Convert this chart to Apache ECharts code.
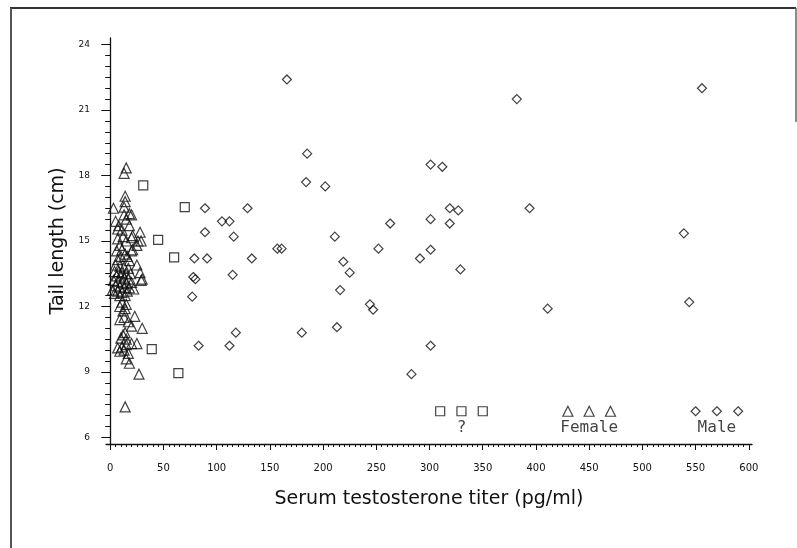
<!DOCTYPE html>
<html>
<head>
<meta charset="utf-8">
<script src="https://cdn.jsdelivr.net/npm/echarts@6/dist/echarts.min.js"></script>
<style>
  html, body { margin: 0; padding: 0; background: #fff; }
  #chart { width: 797px; height: 548px; }
</style>
</head>
<body>
<div id="chart"></div>
<script>
// tick labels
const xTicks = [0, 50, 100, 150, 200, 250, 300, 350, 400, 450, 500, 550, 600];
const yTicks = [6, 9, 12, 15, 18, 21, 24];

// sex unknown (?) - squares
const unknown = [
  [31, 17.55], [45, 15.05], [60, 14.25], [70, 16.55], [39, 10.05], [64, 8.95]
];

// females - triangles
const female = [
  [15, 18.35], [13, 18.1], [14, 17.05], [14, 16.8], [3, 16.5], [13, 16.55],
  [18, 16.25], [20, 16.2], [13, 16.2], [5, 15.9], [15, 16.0], [8, 15.7],
  [18, 15.7], [11, 15.5], [28, 15.4], [7, 15.55], [21, 15.25], [20, 15.15],
  [29, 15.0], [26, 15.0], [7, 15.1], [15, 15.0], [12, 15.2], [9, 14.8],
  [25, 14.8], [6, 14.55], [20, 14.55], [21, 14.6], [14, 14.4], [11, 14.6],
  [7, 14.15], [18, 14.1], [16, 14.3], [10, 14.3], [25, 13.9], [28, 13.55],
  [30, 13.25], [29, 13.2],
  [5, 13.9], [9, 13.85], [13, 13.8], [17, 13.75], [4, 13.6], [8, 13.6],
  [11, 13.55], [15, 13.5], [19, 13.5], [6, 13.4], [10, 13.35], [13, 13.3],
  [17, 13.25], [3, 13.2], [7, 13.15], [11, 13.1], [15, 13.05], [20, 13.1],
  [5, 12.95], [9, 12.9], [13, 12.85], [18, 12.85], [2, 12.75], [7, 12.7],
  [11, 12.65], [16, 12.7], [22, 12.8], [4, 12.6], [9, 12.5], [14, 12.5],
  [9, 12.0], [15, 12.1], [12, 11.8], [11, 12.2], [14, 11.9], [23, 11.55],
  [9, 11.4], [13, 11.5], [17, 11.3], [20, 11.1], [30, 11.0], [14, 10.8],
  [12, 10.7], [15, 10.5], [10, 10.55], [25, 10.3], [20, 10.3], [11, 10.15],
  [9, 9.95], [13, 10.0], [17, 9.85], [7, 10.1], [15, 10.25], [15, 9.6],
  [18, 9.4], [27, 8.9], [14, 7.4]
];

// males - diamonds
const male = [
  [166, 22.4], [185, 19.0], [184, 17.7], [202, 17.5], [301, 18.5], [312, 18.4],
  [89, 16.5], [129, 16.5], [105, 15.9], [112, 15.9], [89, 15.4], [116, 15.2],
  [79, 14.2], [91, 14.2], [133, 14.2], [157, 14.65], [161, 14.65], [78, 13.35],
  [80, 13.25], [115, 13.45], [77, 12.45], [118, 10.8], [83, 10.2], [112, 10.2],
  [180, 10.8], [213, 11.05], [211, 15.2], [219, 14.05], [225, 13.55], [216, 12.75],
  [263, 15.8], [252, 14.65], [244, 12.1], [247, 11.85], [301, 16.0], [291, 14.2],
  [301, 14.6], [301, 10.2], [283, 8.9], [319, 16.5], [327, 16.4], [319, 15.8],
  [329, 13.7], [382, 21.5], [556, 22.0], [394, 16.5], [539, 15.35], [544, 12.2],
  [411, 11.9]
];

const ink = '#111';
const chart = echarts.init(document.getElementById('chart'));

const xMinor = [];
for (let v = 0; v <= 600; v += 5) xMinor.push(v);
const yMinor = [];
for (let v = 6; v <= 24; v += 0.5) yMinor.push(v);

// key markers drawn at the bottom of the plot, three per group
const keyY = 7.2;
const keyRow = (xs, label) => xs.map((x, i) => ({
  value: [x, keyY],
  label: { show: i === 1, formatter: label }
}));

const keyLabel = {
  position: 'bottom',
  distance: 3,
  color: ink,
  fontFamily: 'DejaVu Sans Mono',
  fontSize: 16
};

const markerStyle = { color: 'transparent', borderColor: ink, borderWidth: 1.2 };
const titleFont = { fontFamily: 'DejaVu Sans', fontSize: 19, color: ink };

const option = {
  animation: false,
  backgroundColor: '#fff',
  grid: { left: 106, right: 45, top: 38, bottom: 104 },
  xAxis: [
    {
      type: 'value', min: -4, max: 603, position: 'bottom',
      name: 'Serum testosterone titer (pg/ml)',
      nameLocation: 'middle', nameGap: 46,
      nameTextStyle: titleFont,
      axisLine: { lineStyle: { color: ink, width: 1.3 } },
      axisTick: { customValues: xTicks, length: 6, lineStyle: { color: ink } },
      axisLabel: { customValues: xTicks, margin: 19, fontFamily: 'DejaVu Sans', fontSize: 10, color: ink },
      splitLine: { show: false }
    },
    {
      type: 'value', min: -4, max: 603, position: 'bottom',
      axisLine: { show: false },
      axisTick: { customValues: xMinor, length: 3, lineStyle: { color: ink } },
      axisLabel: { show: false },
      splitLine: { show: false }
    }
  ],
  yAxis: [
    {
      type: 'value', min: 5.7, max: 24.3, position: 'left',
      name: 'Tail length (cm)',
      nameLocation: 'middle', nameGap: 36,
      nameTextStyle: titleFont,
      axisLine: { show: true, lineStyle: { color: ink, width: 1.3 } },
      axisTick: { show: true, customValues: yTicks, length: 9, lineStyle: { color: ink } },
      axisLabel: { customValues: yTicks, margin: 16, fontFamily: 'DejaVu Sans', fontSize: 9, color: ink },
      splitLine: { show: false }
    },
    {
      type: 'value', min: 5.7, max: 24.3, position: 'left',
      axisLine: { show: false },
      axisTick: { show: true, customValues: yMinor, length: 5, lineStyle: { color: ink } },
      axisLabel: { show: false },
      splitLine: { show: false }
    }
  ],
  series: [
    {
      name: '?', type: 'scatter', symbol: 'rect', symbolSize: 9,
      itemStyle: markerStyle, data: unknown
    },
    {
      name: 'Female', type: 'scatter', symbol: 'triangle', symbolSize: 10,
      itemStyle: markerStyle, data: female
    },
    {
      name: 'Male', type: 'scatter', symbol: 'diamond', symbolSize: 9,
      itemStyle: markerStyle, data: male
    },
    {
      type: 'scatter', symbol: 'rect', symbolSize: 9, itemStyle: markerStyle,
      label: keyLabel, data: keyRow([310, 330, 350], '?')
    },
    {
      type: 'scatter', symbol: 'triangle', symbolSize: 10, itemStyle: markerStyle,
      label: keyLabel, data: keyRow([430, 450, 470], 'Female')
    },
    {
      type: 'scatter', symbol: 'diamond', symbolSize: 9, itemStyle: markerStyle,
      label: keyLabel, data: keyRow([550, 570, 590], 'Male')
    }
  ],
  // frame around the figure
  graphic: [
    { type: 'line', shape: { x1: 10, y1: 8, x2: 796, y2: 8 }, style: { stroke: '#333', lineWidth: 2 } },
    { type: 'line', shape: { x1: 11, y1: 8, x2: 11, y2: 548 }, style: { stroke: '#555', lineWidth: 2 } },
    { type: 'line', shape: { x1: 796, y1: 8, x2: 796, y2: 122 }, style: { stroke: '#666', lineWidth: 1.5 } }
  ]
};

chart.setOption(option);
</script>
</body>
</html>
